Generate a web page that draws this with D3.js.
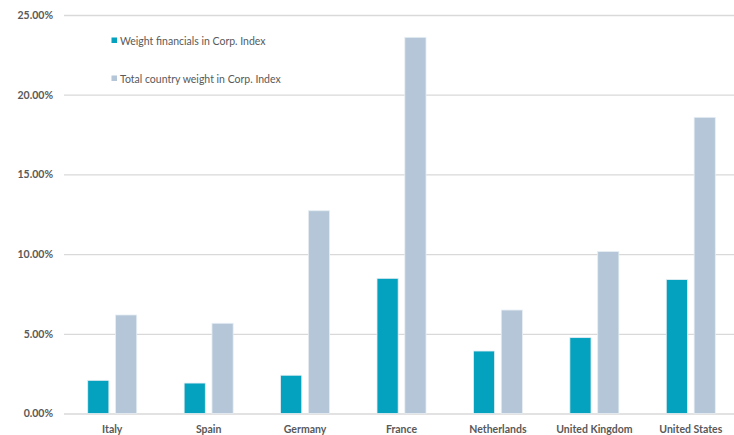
<!DOCTYPE html>
<html>
<head>
<meta charset="utf-8">
<script src="https://cdn.jsdelivr.net/npm/d3@7"></script>
<style>
  html, body { margin: 0; padding: 0; background: #fff; }
  svg { display: block; }
  text { font-family: Lato, "Open Sans", "Liberation Sans", sans-serif; fill: #595959; }
</style>
</head>
<body>
<svg id="chart" width="734" height="435"></svg>
<script>
// Country weights in the corporate index (percent)
const categories = ["Italy", "Spain", "Germany", "France", "Netherlands", "United Kingdom", "United States"];
const financialsWeight = [2.08, 1.91, 2.40, 8.48, 3.92, 4.76, 8.40];
const countryWeight = [6.18, 5.66, 12.72, 23.6, 6.49, 10.16, 18.58];
const seriesNames = ["Weight financials in Corp. Index", "Total country weight in Corp. Index"];
const seriesColors = ["#04A2BE", "#B4C6D7"];
const yTicks = [0, 5, 10, 15, 20, 25];

const svg = d3.select("#chart");
const margin = { top: 15, left: 64, bottom: 21.5 };
const plotWidth = 675;          // plot area runs slightly past the right edge of the view
const height = 435 - margin.top - margin.bottom;

const g = svg.append("g").attr("transform", `translate(${margin.left},${margin.top})`);

const x = d3.scaleBand().domain(categories).range([0, plotWidth]).paddingInner(0).paddingOuter(0);
const xSub = d3.scaleBand().domain([0, 1]).range([x.bandwidth() / 2 - 24.5, x.bandwidth() / 2 + 24.5]).paddingInner(0.24);
const y = d3.scaleLinear().domain([0, 25]).range([height, 0]);

// horizontal gridlines + tick labels
const yAxis = d3.axisLeft(y).tickValues(yTicks).tickSize(-plotWidth).tickFormat(d => d.toFixed(2) + "%");
const ya = g.append("g").call(yAxis);
ya.select(".domain").remove();
ya.selectAll(".tick line").attr("stroke", "#d9d9d9").attr("stroke-width", 1.3);
ya.selectAll(".tick text")
  .attr("x", -11)
  .style("font-size", "10.5px")
  .style("font-weight", "bold")
  .style("fill", "#595959");

// bars
const rows = categories.map((c, i) => ({ c, vals: [financialsWeight[i], countryWeight[i]] }));
const groups = g.selectAll(".grp").data(rows).enter().append("g")
  .attr("transform", d => `translate(${x(d.c)},0)`);
groups.selectAll("rect").data(d => d.vals.map((v, k) => ({ v, k }))).enter().append("rect")
  .attr("x", d => xSub(d.k))
  .attr("width", xSub.bandwidth())
  .attr("y", d => y(d.v))
  .attr("height", d => y(0) - y(d.v))
  .attr("fill", d => seriesColors[d.k])
  .attr("stroke", "#e6eef3")
  .attr("stroke-width", 0.8);

// category axis
const xAxis = d3.axisBottom(x).tickSize(0);
const xa = g.append("g").attr("transform", `translate(0,${height})`).call(xAxis);
xa.select(".domain").remove();
xa.selectAll(".tick text")
  .attr("dy", "1.55em")
  .style("font-size", "10.5px")
  .style("font-weight", "bold")
  .style("fill", "#595959");

// legend
const legend = svg.append("g");
seriesNames.forEach((name, i) => {
  const ly = 41 + i * 38;
  legend.append("rect").attr("x", 111.5).attr("y", ly - 3.5).attr("width", 5.5).attr("height", 5.5).attr("fill", seriesColors[i]);
  legend.append("text").attr("x", 120).attr("y", ly).attr("dy", "0.35em")
    .style("font-size", "10.5px").text(name);
});
</script>
</body>
</html>
